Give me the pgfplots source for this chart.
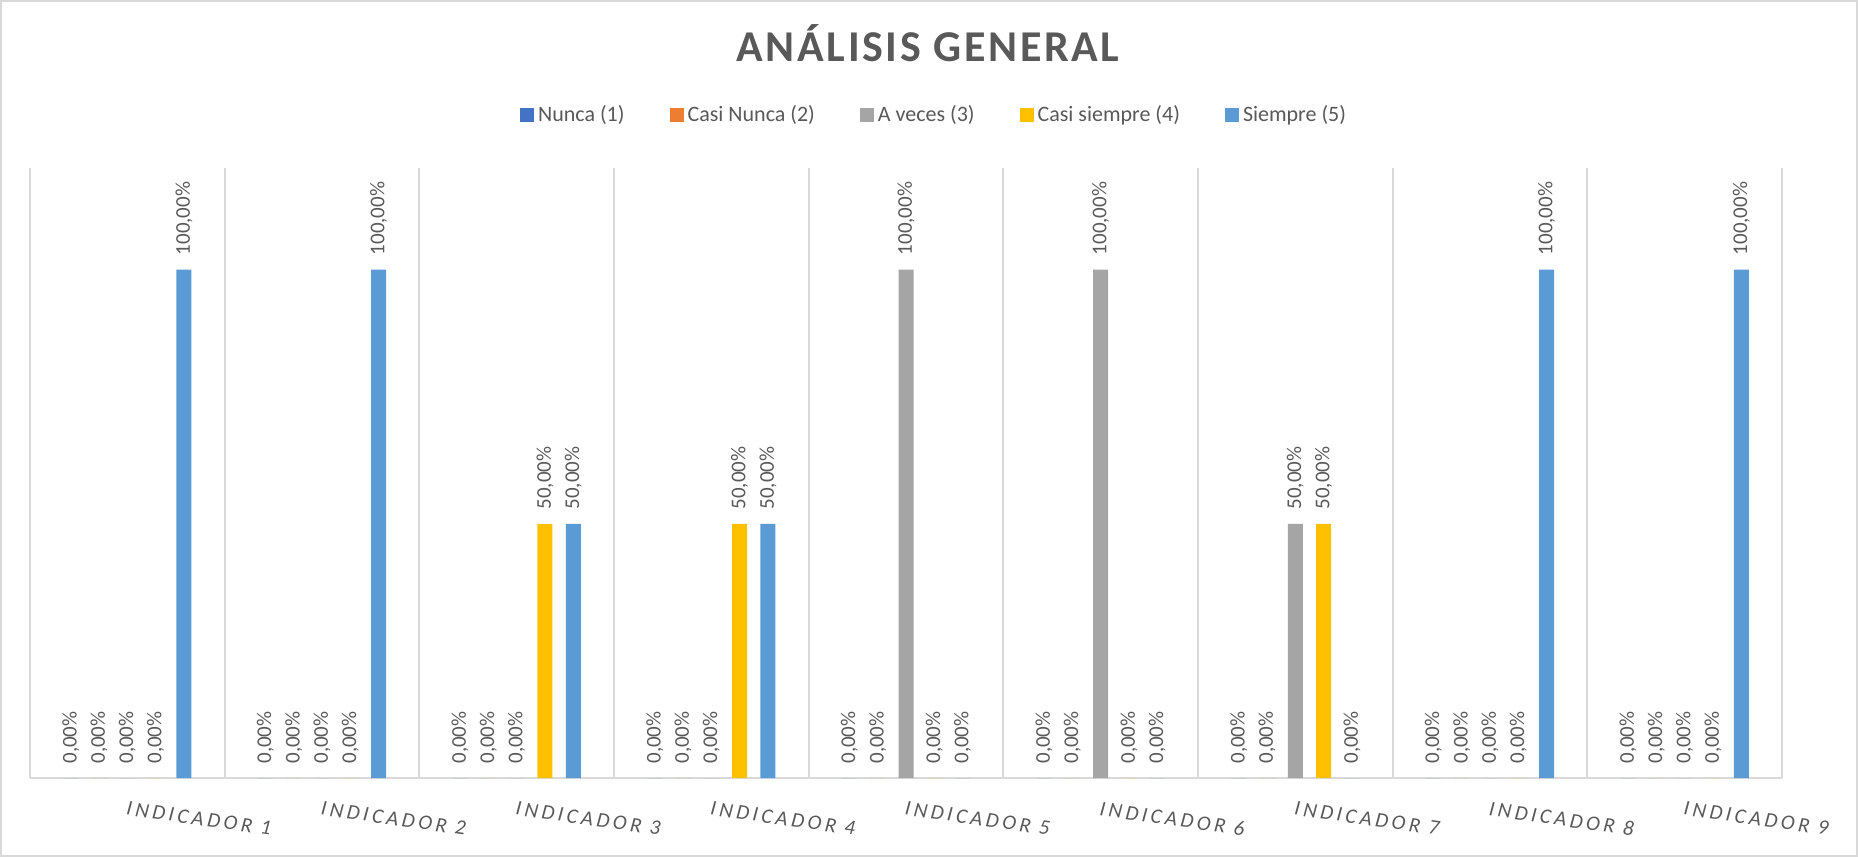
\documentclass[border=0pt]{standalone}
\usepackage{pgfplots}
\pgfplotsset{compat=1.18}
\usepackage{fontspec}
\setmainfont{Carlito}
\newfontfamily\titlefont[LetterSpace=6]{Carlito}
\newfontfamily\tickfont[LetterSpace=17]{Carlito}
\definecolor{cNunca}{HTML}{4472C4}
\definecolor{cCasiNunca}{HTML}{ED7D31}
\definecolor{cAveces}{HTML}{A5A5A5}
\definecolor{cCasiSiempre}{HTML}{FFC000}
\definecolor{cSiempre}{HTML}{5B9BD5}
\definecolor{gridgray}{HTML}{D9D9D9}
\definecolor{labelgray}{HTML}{595959}
\pgfplotsset{sqlegend/.style={legend image code/.code={\fill[##1] (0pt,-3.5pt) rectangle (7pt,3.5pt);}}}
\begin{document}
\begin{tikzpicture}
\draw[color=gridgray, line width=1pt] (0.5pt,0.5pt) rectangle (928.5pt,428pt);
\begin{axis}[
  at={(15pt,39.5pt)}, anchor=south west,
  scale only axis, width=876pt, height=305pt,
  ymin=0, ymax=120, xmin=-0.5, xmax=8.5,
  ybar=6.65pt, bar width=7.5pt,
  axis y line=none, axis x line=bottom,
  axis line style={draw=gridgray, line width=1pt, -},
  xtick={0,1,2,3,4,5,6,7,8},
  xticklabels={INDICADOR 1,INDICADOR 2,INDICADOR 3,INDICADOR 4,INDICADOR 5,INDICADOR 6,INDICADOR 7,INDICADOR 8,INDICADOR 9},
  major tick length=0pt, minor tick length=0pt,
  minor xtick={-0.5,0.5,1.5,2.5,3.5,4.5,5.5,6.5,7.5,8.5},
  xminorgrids, minor grid style={draw=gridgray, line width=1pt},
  xticklabel style={font=\tickfont\itshape\fontsize{10.5}{12}\selectfont, text=labelgray, anchor=north west, inner sep=0pt, yshift=-11.5pt, rotate=-8},
  clip=false,
  /pgf/number format/assume math mode=true,
  nodes near coords={\pgfmathprintnumber[fixed,fixed zerofill,precision=2,use comma]{\pgfplotspointmeta}\%},
  every node near coord/.append style={rotate=90, anchor=west, font=\fontsize{10.5}{12}\selectfont, text=labelgray, inner xsep=7pt, inner ysep=0pt},
  legend style={at={(0.5166,1.0876)}, anchor=center, draw=none, legend columns=5,
    font=\fontsize{11}{13}\selectfont, text=labelgray,
    /tikz/every even column/.append style={column sep=20.5pt}},
]
\addplot[fill=cNunca, draw=none, sqlegend] coordinates {(0,0) (1,0) (2,0) (3,0) (4,0) (5,0) (6,0) (7,0) (8,0)};
\addlegendentry{Nunca (1)}
\addplot[fill=cCasiNunca, draw=none, sqlegend] coordinates {(0,0) (1,0) (2,0) (3,0) (4,0) (5,0) (6,0) (7,0) (8,0)};
\addlegendentry{Casi Nunca (2)}
\addplot[fill=cAveces, draw=none, sqlegend] coordinates {(0,0) (1,0) (2,0) (3,0) (4,100) (5,100) (6,50) (7,0) (8,0)};
\addlegendentry{A veces (3)}
\addplot[fill=cCasiSiempre, draw=none, sqlegend] coordinates {(0,0) (1,0) (2,50) (3,50) (4,0) (5,0) (6,50) (7,0) (8,0)};
\addlegendentry{Casi siempre (4)}
\addplot[fill=cSiempre, draw=none, sqlegend] coordinates {(0,100) (1,100) (2,50) (3,50) (4,0) (5,0) (6,0) (7,100) (8,100)};
\addlegendentry{Siempre (5)}
\end{axis}
\node[font=\titlefont\bfseries\fontsize{22}{26}\selectfont, text=labelgray, anchor=base] at (464pt,397.5pt) {ANÁLISIS GENERAL};
\pgfresetboundingbox
\path[use as bounding box] (0,0) rectangle (929pt,428.5pt);
\end{tikzpicture}
\end{document}
